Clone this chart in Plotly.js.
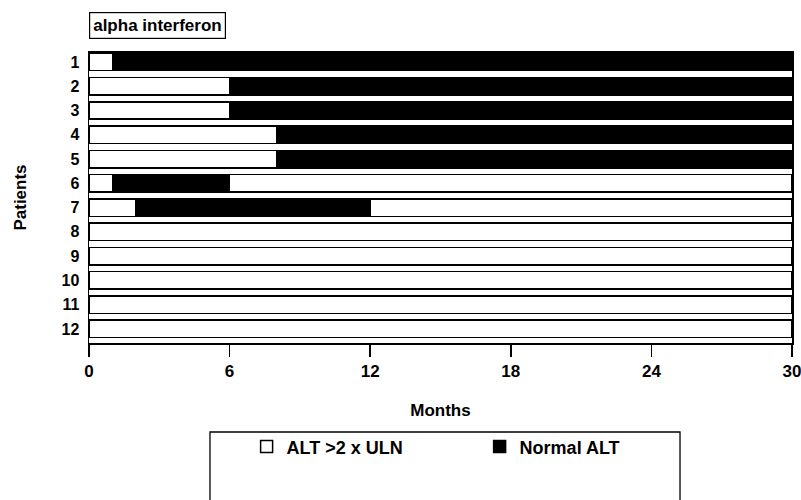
<!DOCTYPE html>
<html>
<head>
<meta charset="utf-8">
<script src="https://cdn.plot.ly/plotly-3.0.1.min.js"></script>
<style>html,body{margin:0;padding:0;background:#fff;}#chart{width:801px;height:500px;}</style>
</head>
<body>
<div id="chart"></div>
<script>
// Data
const patients = ['1','2','3','4','5','6','7','8','9','10','11','12'];
// Segment 1: initial period with ALT > 2 x ULN (months)
const seg1AltHigh = [1, 6, 6, 8, 8, 1, 2, 30, 30, 30, 30, 30];
// Segment 2: period with normal ALT (months)
const seg2Normal = [29, 24, 24, 22, 22, 5, 10, null, null, null, null, null];
// Segment 3: relapse, ALT > 2 x ULN again (months)
const seg3AltHigh = [null, null, null, null, null, 24, 18, null, null, null, null, null];
const xTicks = [0, 6, 12, 18, 24, 30];
const legendLabels = ['ALT >2 x ULN', 'Normal ALT'];
const titleText = 'alpha interferon';

const FONT = 'Arial, "Liberation Sans", Helvetica, sans-serif';
const outline = {color: '#000', width: 1.5};

const traces = [
  {type: 'bar', orientation: 'h', y: patients, x: seg1AltHigh, name: legendLabels[0],
   marker: {color: '#fff', line: outline}, width: 0.72, legendgroup: 'high', hoverinfo: 'x+y'},
  {type: 'bar', orientation: 'h', y: patients, x: seg2Normal, name: legendLabels[1],
   marker: {color: '#000', line: outline}, width: 0.72, hoverinfo: 'x+y'},
  {type: 'bar', orientation: 'h', y: patients, x: seg3AltHigh, name: legendLabels[0],
   marker: {color: '#fff', line: outline}, width: 0.72, legendgroup: 'high', showlegend: false, hoverinfo: 'x+y'}
];

const layout = {
  width: 801, height: 500,
  margin: {l: 89, r: 9, t: 52, b: 157},
  paper_bgcolor: '#fff', plot_bgcolor: '#fff',
  barmode: 'stack',
  font: {family: FONT, size: 16, color: '#000', weight: 'bold'},
  showlegend: true,
  legend: {
    orientation: 'h', x: 0.2242, xanchor: 'left', y: -0.357, yanchor: 'middle',
    font: {family: FONT, size: 18, color: '#000', weight: 'bold'},
    entrywidth: 188, entrywidthmode: 'pixels',
    bgcolor: 'rgba(0,0,0,0)', borderwidth: 0,
    traceorder: 'normal'
  },
  xaxis: {
    range: [0, 30], tickvals: xTicks, ticktext: xTicks.map(String),
    ticks: 'outside', ticklen: 12, tickwidth: 1.5, tickcolor: '#000',
    showline: true, linecolor: '#000', linewidth: 1.5, mirror: true,
    showgrid: false, zeroline: false, ticklabeloverflow: 'allow',
    tickfont: {family: FONT, size: 17, color: '#000', weight: 'bold'},
    title: {text: 'Months', font: {family: FONT, size: 17, color: '#000', weight: 'bold'}, standoff: 24}
  },
  yaxis: {
    type: 'category', categoryorder: 'array', categoryarray: patients,
    range: [11.58, -0.41],
    ticks: '', showline: true, linecolor: '#000', linewidth: 1.5, mirror: true,
    showgrid: false, zeroline: false,
    tickfont: {family: FONT, size: 16, color: '#000', weight: 'bold'},
    ticklabelstandoff: 5,
    title: {text: 'Patients', font: {family: FONT, size: 17, color: '#000', weight: 'bold'}, standoff: 30}
  },
  annotations: [{
    text: titleText, xref: 'paper', yref: 'paper', x: 0, y: 1.091,
    xanchor: 'left', yanchor: 'middle', showarrow: false,
    font: {family: FONT, size: 17, color: '#000', weight: 'bold'},
    bordercolor: '#000', borderwidth: 1.2, borderpad: 3, bgcolor: '#fff'
  }],
  shapes: [{
    type: 'rect', xref: 'paper', yref: 'paper',
    x0: 0.1721, x1: 0.8407, y0: -0.59, y1: -0.3058,
    line: {color: '#000', width: 1.3}, fillcolor: 'rgba(0,0,0,0)', layer: 'above'
  }]
};

Plotly.newPlot('chart', traces, layout, {displayModeBar: false, staticPlot: true});
</script>
</body>
</html>
